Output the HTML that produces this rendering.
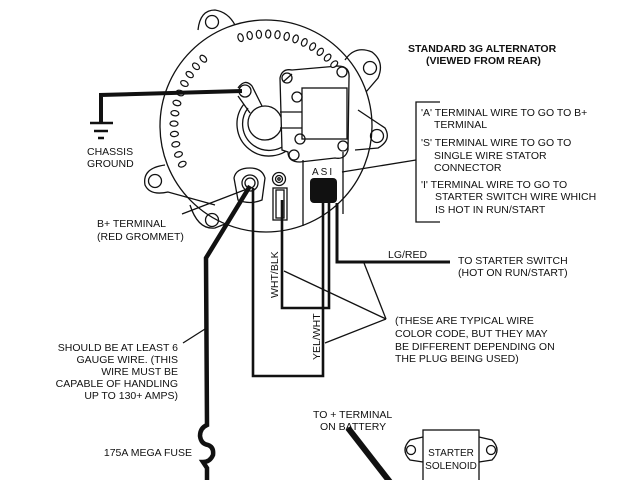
<!DOCTYPE html>
<html><head><meta charset="utf-8"><style>
html,body{margin:0;padding:0;background:#fff;}
svg{display:block;}
text{font-family:"Liberation Sans",Arial,sans-serif;font-size:10.5px;fill:#111;}
.b{font-weight:bold;}
</style></head><body>
<svg id="s" width="640" height="480" viewBox="0 0 640 480" xmlns="http://www.w3.org/2000/svg">
<g fill="none" stroke="#111" stroke-width="1.3">
<path d="M198,30 Q200,10 215,10 Q228,12 235,25" fill="#fff"/>
<circle cx="212" cy="22" r="6.5"/>
<path d="M345,60 Q355,45 372,52 Q385,62 378,78 L366,92" fill="#fff"/>
<circle cx="370" cy="68" r="6.5"/>
<path d="M358,110 L385,128 Q392,140 378,148 L355,150"/>
<circle cx="377" cy="136" r="6.5"/>
<path d="M165,165 Q142,168 145,185 Q150,196 168,192 L215,205"/>
<circle cx="155" cy="181" r="6.5"/>
<path d="M190,205 Q198,230 215,228 L230,222"/>
<circle cx="212" cy="220" r="6.5"/>
<circle cx="266" cy="126" r="106"/>
<path d="M238,88 Q245,78 252,86 L262,106 M238,96 L250,113"/>
<circle cx="245" cy="91" r="6"/>
<circle cx="265" cy="123" r="17" fill="#fff"/>
<path d="M248,108 A26,26 0 1 0 290,140"/>
<path d="M244,104 A30,30 0 1 0 294,144"/>
<path d="M280,78 Q282,68 292,70 L338,66 Q350,66 349,78 L348,150 Q345,160 335,158 L300,162 Q288,162 288,152 L282,150 Z" fill="#fff"/>
<rect x="302" y="88" width="45" height="51"/>
<circle cx="287" cy="78" r="5"/><line x1="283" y1="82" x2="292" y2="74"/>
<circle cx="342" cy="72" r="5"/>
<circle cx="297" cy="97" r="5"/>
<circle cx="300" cy="139" r="5"/>
<circle cx="343" cy="146" r="5"/>
<circle cx="294" cy="155" r="5"/>
<path d="M280,112 L302,112 M280,128 L302,128"/>
<path d="M303,160 L303,226 M343,152 L343,214"/>
<path d="M234,178 Q236,168 250,168 Q262,168 265,178 L262,200 Q250,205 238,200 Z" fill="#fff"/>
<circle cx="250" cy="183" r="8"/>
<circle cx="250" cy="183" r="5"/>
<circle cx="279" cy="179" r="6.5"/>
<circle cx="279" cy="179" r="3.5"/>
<circle cx="279" cy="179" r="1.2"/>
<rect x="273" y="188" width="14" height="32"/>
<rect x="276" y="190" width="8" height="28"/>
<path d="M440,102 L416,102 L416,222 L440,222"/>
<line x1="416" y1="160" x2="342" y2="172"/>
<line x1="182" y1="214" x2="247" y2="189"/>
<line x1="284" y1="271" x2="386" y2="319"/>
<line x1="325" y1="343" x2="386" y2="319"/>
<line x1="364" y1="263" x2="386" y2="319"/>
<line x1="183" y1="343" x2="205" y2="329"/>
<rect x="423" y="430" width="56" height="60" fill="#fff"/>
<path d="M423,437 L410,440 Q400,450 410,460 L423,462"/>
<circle cx="411" cy="450" r="4.5"/>
<path d="M479,437 L492,440 Q502,450 492,460 L479,462"/>
<circle cx="491" cy="450" r="4.5"/>
</g>
<g id="slots" fill="#fff" stroke="#111" stroke-width="1.2"></g>
<g fill="none" stroke="#111" stroke-linejoin="miter">
<path d="M101,123 L101,95 L242,91" stroke-width="4"/>
<line x1="90" y1="123" x2="113" y2="123" stroke-width="2.5"/>
<line x1="94" y1="131" x2="108" y2="131" stroke-width="2.5"/>
<line x1="98" y1="138" x2="104" y2="138" stroke-width="2.5"/>
<path d="M250,186 L206,258 L207,425 Q200,428 200,436 Q201,444 208,445 Q214,447 213,455 Q210,462 203,462 L207,468 L207,480" stroke-width="4.5"/>
<path d="M253,188 L253,376 L323,376 L323,203" stroke-width="2.6"/>
<path d="M282,200 L282,308 L329,308 L329,203" stroke-width="2.6"/>
<path d="M337,203 L337,262 L450,262" stroke-width="3"/>
<line x1="348" y1="428" x2="390" y2="482" stroke-width="6"/>
</g>
<rect x="310" y="178" width="27" height="25" rx="4" fill="#111"/>
<text x="312" y="175" style="font-size:10px;letter-spacing:2px">ASI</text>
<text class="b" x="408" y="52">STANDARD 3G ALTERNATOR</text>
<text class="b" x="426" y="64">(VIEWED FROM REAR)</text>
<text x="421" y="116">'A' TERMINAL WIRE TO GO TO  B+</text>
<text x="434" y="128">TERMINAL</text>
<text x="421" y="146">'S' TERMINAL  WIRE TO GO TO</text>
<text x="434" y="159">SINGLE WIRE STATOR</text>
<text x="434" y="171">CONNECTOR</text>
<text x="421" y="188">'I' TERMINAL  WIRE TO GO TO</text>
<text x="435" y="200">STARTER SWITCH WIRE WHICH</text>
<text x="435" y="213">IS HOT IN RUN/START</text>
<text x="388" y="258">LG/RED</text>
<text x="458" y="264">TO STARTER SWITCH</text>
<text x="458" y="276">(HOT ON RUN/START)</text>
<text x="87" y="155">CHASSIS</text>
<text x="87" y="167">GROUND</text>
<text x="97" y="227">B+ TERMINAL</text>
<text x="97" y="240">(RED GROMMET)</text>
<text transform="translate(278,298) rotate(-90)">WHT/BLK</text>
<text transform="translate(320,360) rotate(-90)">YEL/WHT</text>
<text x="395" y="324">(THESE ARE TYPICAL WIRE</text>
<text x="395" y="337">COLOR CODE, BUT THEY MAY</text>
<text x="395" y="350">BE DIFFERENT DEPENDING ON</text>
<text x="395" y="362">THE PLUG BEING USED)</text>
<g text-anchor="end">
<text x="178" y="351">SHOULD BE AT LEAST 6</text>
<text x="178" y="363">GAUGE WIRE.  (THIS</text>
<text x="178" y="375">WIRE MUST BE</text>
<text x="178" y="387">CAPABLE OF HANDLING</text>
<text x="178" y="399">UP TO 130+ AMPS)</text>
<text x="192" y="456">175A MEGA FUSE</text>
</g>
<text x="313" y="418">TO + TERMINAL</text>
<text x="320" y="430">ON BATTERY</text>
<text x="451" y="456" text-anchor="middle" style="font-size:10px">STARTER</text>
<text x="451" y="469" text-anchor="middle" style="font-size:10px">SOLENOID</text>
</svg>
<script>
var g=document.getElementById('slots'),cx=266,cy=126,r=92,NS='http://www.w3.org/2000/svg';
function add(a){var x=cx+r*Math.cos(a*Math.PI/180),y=cy+r*Math.sin(a*Math.PI/180);
var e=document.createElementNS(NS,'ellipse');e.setAttribute('cx',x.toFixed(1));e.setAttribute('cy',y.toFixed(1));
e.setAttribute('rx','2.6');e.setAttribute('ry','4');e.setAttribute('transform','rotate('+(a-90)+' '+x.toFixed(1)+' '+y.toFixed(1)+')');g.appendChild(e);}
for(var i=0;i<12;i++)add(-106+i*5.8);
for(var i=0;i<12;i++)add(227-i*6.5);
</script>
</body></html>
